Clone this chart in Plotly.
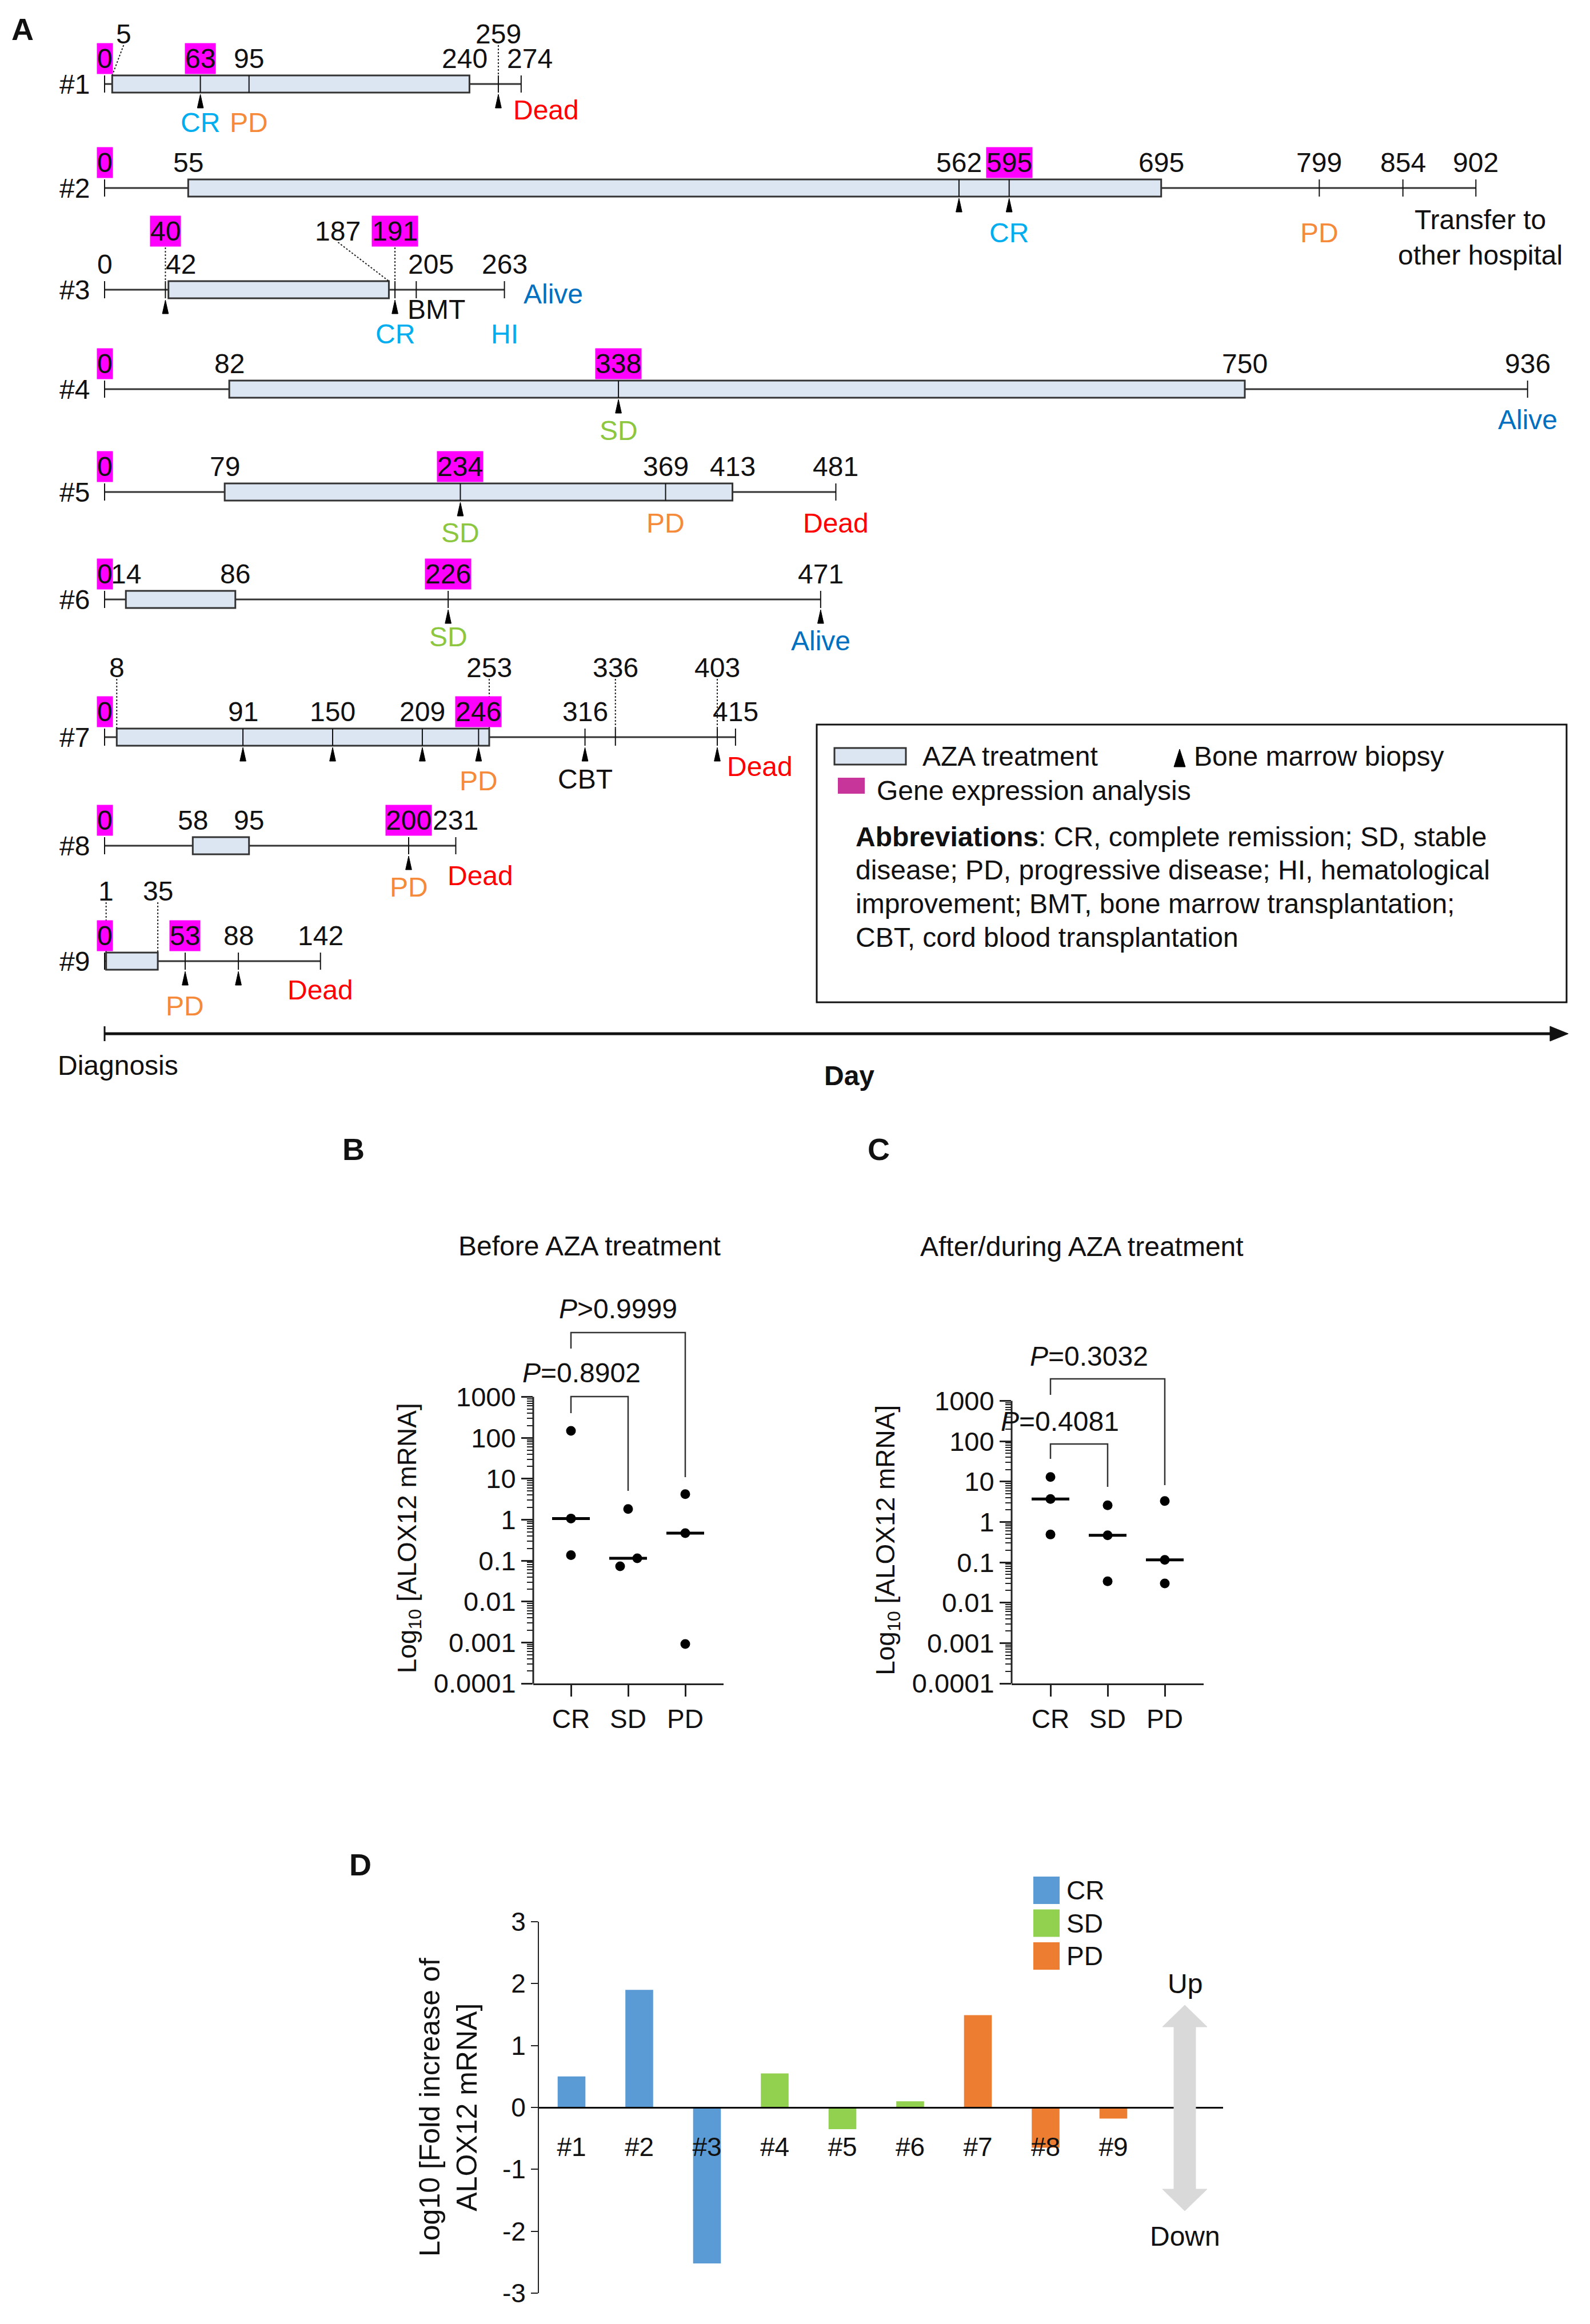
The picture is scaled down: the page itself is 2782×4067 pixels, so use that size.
import numpy as np
import plotly.graph_objects as go

# ===================== DATA =====================
patients = ["#1", "#2", "#3", "#4", "#5", "#6", "#7", "#8", "#9"]
followup_end = [274, 902, 263, 936, 481, 471, 415, 231, 142]
aza_start = [5, 55, 42, 82, 79, 14, 8, 58, 1]
aza_end = [240, 695, 187, 750, 413, 86, 253, 95, 35]
gene_expr_days = [[0, 63], [0, 595], [40, 191], [0, 338], [0, 234], [0, 226], [0, 246], [0, 200], [0, 53]]
biopsy_days = [[63, 259], [562, 595], [40, 191], [338], [234], [226, 471],
               [91, 150, 209, 246, 316, 403], [200], [53, 88]]
other_event_days = [[95], [799, 854], [205], [], [369], [], [336], [], []]
status_text = [["CR", "PD", "Dead"], ["CR", "PD", "Transfer to<br>other hospital"],
               ["BMT", "CR", "HI", "Alive"], ["SD", "Alive"], ["SD", "PD", "Dead"],
               ["SD", "Alive"], ["PD", "CBT", "Dead"], ["PD", "Dead"], ["PD", "Dead"]]
status_day = [[63, 95, 274], [595, 799, 902], [205, 191, 263, 263], [338, 936],
              [234, 369, 481], [226, 471], [246, 316, 415], [200, 231], [53, 142]]

groups = ["CR", "SD", "PD"]
before_CR = [148, 1.07, 0.136]
before_SD = [1.82, 0.114, 0.073]
before_PD = [4.2, 0.47, 0.00092]
after_CR = [13, 3.7, 0.49]
after_SD = [2.6, 0.47, 0.034]
after_PD = [3.3, 0.115, 0.030]
p_before = ["<i>P</i>=0.8902", "<i>P</i>&gt;0.9999"]
p_after = ["<i>P</i>=0.4081", "<i>P</i>=0.3032"]
log_tick_vals = [1000, 100, 10, 1, 0.1, 0.01, 0.001, 0.0001]
log_tick_text = ["1000", "100", "10", "1", "0.1", "0.01", "0.001", "0.0001"]

fold_log10 = [0.50, 1.90, -2.52, 0.55, -0.35, 0.10, 1.49, -0.65, -0.18]
fold_response = ["CR", "CR", "CR", "SD", "SD", "SD", "PD", "PD", "PD"]
d_tick_vals = [-3, -2, -1, 0, 1, 2, 3]
d_tick_text = ["-3", "-2", "-1", "0", "1", "2", "3"]

# ===================== LAYOUT HELPERS =====================
W, H = 2782, 4067
FONT = "Liberation Sans, Arial, sans-serif"
TXT = "#111111"


def px(x):
    return x / W


def py(y):
    return 1 - y / H


shapes = []
ann = []


def text_paper(x, y, t, size=48, color=TXT, xanchor="center", yanchor="middle", angle=0, align="center"):
    ann.append(dict(x=px(x), y=py(y), xref="paper", yref="paper", text=t, showarrow=False,
                    xanchor=xanchor, yanchor=yanchor, textangle=angle, align=align,
                    font=dict(family=FONT, size=size, color=color)))


def rect_paper(x0, y0, x1, y1, fill, lc=None, lw=0):
    shapes.append(dict(type="rect", xref="paper", yref="paper", x0=px(x0), x1=px(x1),
                       y0=py(y0), y1=py(y1), fillcolor=fill,
                       line=dict(color=lc if lc else fill, width=lw)))


def line_paper(x0, y0, x1, y1, color="#222222", width=3, dash=None):
    ln = dict(color=color, width=width)
    if dash:
        ln["dash"] = dash
    shapes.append(dict(type="line", xref="paper", yref="paper", x0=px(x0), x1=px(x1),
                       y0=py(y0), y1=py(y1), line=ln))


def poly_paper(pts, fill):
    path = "M " + " L ".join(f"{px(a):.6f},{py(b):.6f}" for a, b in pts) + " Z"
    shapes.append(dict(type="path", xref="paper", yref="paper", path=path,
                       fillcolor=fill, line=dict(color=fill, width=1)))


# ===================== PANEL A =====================
DAY0 = 183
PPD = 2.66
A_H = 1900
row_y = [147, 329, 507, 681, 861, 1049, 1290, 1480, 1682]
LOW = -45
HALF = 15
upper_off = {0: -88, 2: -103, 6: -122, 8: -123}
upper_days = {0: [5, 259], 2: [40, 187, 191], 6: [8, 253, 336, 403], 8: [1, 35]}
label_dx = {(0, 5): 20, (0, 240): -8, (0, 274): 15, (2, 42): 22, (2, 187): -89, (2, 205): 26}
status_off = [
    [(0, 67), (0, 67), (44, 45)],
    [(0, 78), (0, 78), (8, 86)],
    [(35, 34), (0, 77), (0, 77), (85, 7)],
    [(0, 72), (0, 53)],
    [(0, 71), (0, 54), (0, 54)],
    [(0, 65), (0, 72)],
    [(0, 76), (0, 73), (43, 51)],
    [(0, 72), (43, 52)],
    [(0, 78), (0, 50)],
]
STATUS_COL = {"CR": "#00AEEF", "HI": "#00AEEF", "PD": "#F58A3A", "SD": "#8DC63F",
              "Dead": "#FF0000", "Alive": "#0070C0"}
LINE_COL = "#333333"
BOX_FILL = "#DCE6F2"
MAGENTA = "#FF00FF"


def dx(day, off_px=0):
    return day + off_px / PPD


def a_shape(**kw):
    d = dict(xref="x", yref="y")
    d.update(kw)
    shapes.append(d)


def a_text(day, y, t, size=48, color=TXT, xanchor="center", bg=None):
    a = dict(x=day, y=y, xref="x", yref="y", text=t, showarrow=False, xanchor=xanchor,
             yanchor="middle", font=dict(family=FONT, size=size, color=color), borderpad=0)
    if bg:
        a["bgcolor"] = bg
    ann.append(a)


for i, pid in enumerate(patients):
    y0 = row_y[i]
    a_shape(type="line", x0=0, x1=followup_end[i], y0=y0, y1=y0, line=dict(color=LINE_COL, width=3))
    marked = sorted(set([0, followup_end[i]] + gene_expr_days[i] + biopsy_days[i] + other_event_days[i]))
    a_shape(type="rect", x0=aza_start[i], x1=aza_end[i], y0=y0 - HALF, y1=y0 + HALF,
            fillcolor=BOX_FILL, line=dict(color=LINE_COL, width=3))
    for d in marked:
        a_shape(type="line", x0=d, x1=d, y0=y0 - HALF, y1=y0 + HALF, line=dict(color="#111111", width=2))
    for d in biopsy_days[i]:
        a_shape(type="path", path=f"M {d - 2},{y0 + 42} L {d},{y0 + 18} L {d + 2},{y0 + 42} Z",
                fillcolor="#000000", line=dict(color="#000000", width=1))
    label_days = sorted(set(marked + [aza_start[i], aza_end[i]]))
    for d in label_days:
        up = d in upper_days.get(i, [])
        yc = y0 + (upper_off[i] if up else LOW)
        xl = dx(d, label_dx.get((i, d), 0))
        hl = d in gene_expr_days[i]
        a_text(xl, yc, str(d), bg=MAGENTA if hl else None)
        if up:
            a_shape(type="line", x0=xl, x1=d, y0=yc + (29 if hl else 20), y1=y0 - HALF,
                    line=dict(color="#222222", width=2, dash="dot"))
    a_text(dx(0, -25), y0, pid, xanchor="right")
    for t, d, (ox, oy) in zip(status_text[i], status_day[i], status_off[i]):
        a_text(dx(d, ox), y0 + oy, t, color=STATUS_COL.get(t, TXT))

# legend box of panel A
rect_paper(1429, 1268, 2741, 1754, "rgba(0,0,0,0)", "#111111", 3)
rect_paper(1460, 1309, 1585, 1338, BOX_FILL, LINE_COL, 3)
text_paper(1612, 1324, "AZA treatment", xanchor="left")
poly_paper([(2054, 1342), (2064, 1311), (2074, 1342)], "#000000")
text_paper(2087, 1324, "Bone marrow biopsy", xanchor="left")
rect_paper(1466, 1361, 1513, 1389, "#C8359A")
text_paper(1532, 1384, "Gene expression analysis", xanchor="left")
abbr_lines = ["<b>Abbreviations</b>: CR, complete remission; SD, stable",
              "disease; PD, progressive disease; HI, hematological",
              "improvement; BMT, bone marrow transplantation;",
              "CBT, cord blood transplantation"]
for k, t in enumerate(abbr_lines):
    text_paper(1495, 1464 + 58.7 * k, t, xanchor="left")

# day axis
line_paper(DAY0, 1809, 2718, 1809, "#111111", 5)
line_paper(DAY0, 1796, DAY0, 1822, "#111111", 3)
poly_paper([(2712, 1796), (2744, 1809), (2712, 1822)], "#111111")
text_paper(206, 1864, "Diagnosis")
text_paper(1486, 1883, "<b>Day</b>")

# panel letters
text_paper(39, 51, "<b>A</b>", size=54)
text_paper(618, 2011, "<b>B</b>", size=54)
text_paper(1537, 2011, "<b>C</b>", size=54)
text_paper(630, 3263, "<b>D</b>", size=54)

# ===================== PANELS B & C =====================
fig = go.Figure()
layout_axes = {}

minor_vals = [m * 10.0 ** e for e in range(-4, 3) for m in range(2, 10)]


def dot_panel(k, yaxis_px, right_px, cat0_px, bottom_px, top1000_px, series, jitter,
              brackets, p_texts, title, title_xy, ytitle_x):
    decade = (bottom_px - top1000_px) / 7.0
    top_px = 2250
    rtop = -4 + (bottom_px - top_px) / decade
    xa, ya = f"x{k}", f"y{k}"
    layout_axes[f"xaxis{k}"] = dict(domain=[px(yaxis_px), px(right_px)],
                                    range=[(yaxis_px - cat0_px) / 100.0, (right_px - cat0_px) / 100.0],
                                    anchor=ya, showline=True, linecolor="#222222", linewidth=3,
                                    tickvals=[0, 1, 2], ticktext=groups, ticks="outside", ticklen=20,
                                    tickwidth=3, tickcolor="#222222", showgrid=False, zeroline=False,
                                    automargin=False,
                                    tickfont=dict(family=FONT, size=46, color=TXT))
    layout_axes[f"yaxis{k}"] = dict(domain=[py(bottom_px), py(top_px)], type="log", range=[-4, rtop],
                                    anchor=xa, showline=False, tickvals=log_tick_vals,
                                    ticktext=log_tick_text, ticks="outside", ticklen=20, tickwidth=3,
                                    tickcolor="#222222", showgrid=False, zeroline=False, automargin=False,
                                    minor=dict(tickvals=minor_vals, ticks="outside", ticklen=10,
                                               tickwidth=2, tickcolor="#222222", showgrid=False),
                                    tickfont=dict(family=FONT, size=47, color=TXT))
    line_paper(yaxis_px, bottom_px, yaxis_px, top1000_px, "#222222", 3)

    def to_val(ypix):
        return 10 ** (-4 + (bottom_px - ypix) / decade)

    for gi, vals in enumerate(series):
        xs = [gi + j for j in jitter[gi]]
        fig.add_trace(go.Scatter(x=xs, y=vals, mode="markers", xaxis=xa, yaxis=ya,
                                 marker=dict(color="#000000", size=17), hoverinfo="skip"))
        med = float(np.median(vals))
        fig.add_trace(go.Scatter(x=[gi - 0.33, gi + 0.33], y=[med, med], mode="lines", xaxis=xa, yaxis=ya,
                                 line=dict(color="#000000", width=5), hoverinfo="skip"))
    for (ga, gb, top, lb, rb, lx, ly), pt in zip(brackets, p_texts):
        fig.add_trace(go.Scatter(x=[ga, ga, gb, gb], y=[to_val(lb), to_val(top), to_val(top), to_val(rb)],
                                 mode="lines", xaxis=xa, yaxis=ya,
                                 line=dict(color="#333333", width=2.5), hoverinfo="skip"))
        text_paper(lx, ly, pt, size=48)
    text_paper(title_xy[0], title_xy[1], title, size=48)
    text_paper(ytitle_x, (bottom_px + top1000_px) / 2 - 4, "Log<sub>10</sub> [ALOX12 mRNA]", size=46, angle=-90)


dot_panel(2, 933, 1266, 999, 2946, 2444.6, [before_CR, before_SD, before_PD],
          [[0, 0, 0], [0, 0.16, -0.14], [0, 0, 0]],
          [(0, 1, 2444, 2473, 2609, 1017, 2402), (0, 2, 2332, 2360, 2585, 1081, 2290)],
          p_before, "Before AZA treatment", (1031, 2180), 715)
dot_panel(3, 1770, 2106, 1838, 2946, 2451.6, [after_CR, after_SD, after_PD],
          [[0, 0, 0], [0, 0, 0], [0, 0, 0]],
          [(0, 1, 2527, 2553, 2602, 1854, 2487), (0, 2, 2413, 2441, 2599, 1905, 2373)],
          p_after, "After/during AZA treatment", (1893, 2181), 1553)

# ===================== PANEL D =====================
BAR_COL = {"CR": "#5B9BD5", "SD": "#92D050", "PD": "#ED7D31"}
D_LEFT, D_RIGHT, D_CAT0, D_STEP = 943, 2140, 1000, 118.5
D_TOP, D_BOT, D_ZERO = 3363, 4013, 3688
fig.add_trace(go.Bar(x=list(range(len(patients))), y=fold_log10, width=0.41,
                     marker=dict(color=[BAR_COL[r] for r in fold_response], line=dict(width=0)),
                     xaxis="x4", yaxis="y4", hoverinfo="skip"))
layout_axes["xaxis4"] = dict(domain=[px(D_LEFT), px(D_RIGHT)],
                             range=[(D_LEFT - D_CAT0) / D_STEP, (D_RIGHT - D_CAT0) / D_STEP],
                             anchor="free", position=py(D_ZERO), showline=True, linecolor="#000000",
                             linewidth=3, ticks="", tickvals=list(range(len(patients))), ticktext=patients,
                             ticklabelstandoff=28, showgrid=False, zeroline=False, automargin=False,
                             tickfont=dict(family=FONT, size=46, color=TXT))
layout_axes["yaxis4"] = dict(domain=[py(D_BOT), py(D_TOP)], range=[-3, 3], anchor="x4",
                             showline=True, linecolor="#222222", linewidth=2, ticks="outside", ticklen=12,
                             tickwidth=2, tickcolor="#222222", tickvals=d_tick_vals, ticktext=d_tick_text,
                             showgrid=False, zeroline=False, automargin=False,
                             tickfont=dict(family=FONT, size=46, color=TXT))
text_paper(784, D_ZERO, "Log10 [Fold increase of<br>ALOX12 mRNA]", size=50, angle=-90)

for k, g in enumerate(groups):
    yc = 3308 + 57.5 * k
    rect_paper(1808, yc - 24, 1854, yc + 24, BAR_COL[g])
    text_paper(1864, yc, g, size=46, xanchor="left")

ax_c = 2073
poly_paper([(ax_c, 3509), (ax_c + 39, 3547), (ax_c + 19, 3547), (ax_c + 19, 3831), (ax_c + 39, 3831),
            (ax_c, 3869), (ax_c - 39, 3831), (ax_c - 19, 3831), (ax_c - 19, 3547), (ax_c - 39, 3547)],
           "#D9D9D9")
text_paper(ax_c, 3471, "Up", size=48)
text_paper(ax_c, 3913, "Down", size=48)

# ===================== FIGURE =====================
fig.update_layout(
    width=W, height=H, margin=dict(l=0, r=0, t=0, b=0, pad=0, autoexpand=False),
    paper_bgcolor="white", plot_bgcolor="rgba(0,0,0,0)", showlegend=False,
    xaxis=dict(domain=[0, 1], range=[-DAY0 / PPD, (W - DAY0) / PPD], visible=False, anchor="y",
               automargin=False),
    yaxis=dict(domain=[1 - A_H / H, 1], range=[A_H, 0], visible=False, anchor="x", automargin=False),
    shapes=shapes, annotations=ann, font=dict(family=FONT, color=TXT),
    **layout_axes,
)
fig.write_html("out.html", config={"displayModeBar": False},
               post_script="document.body.style.margin='0px';")
